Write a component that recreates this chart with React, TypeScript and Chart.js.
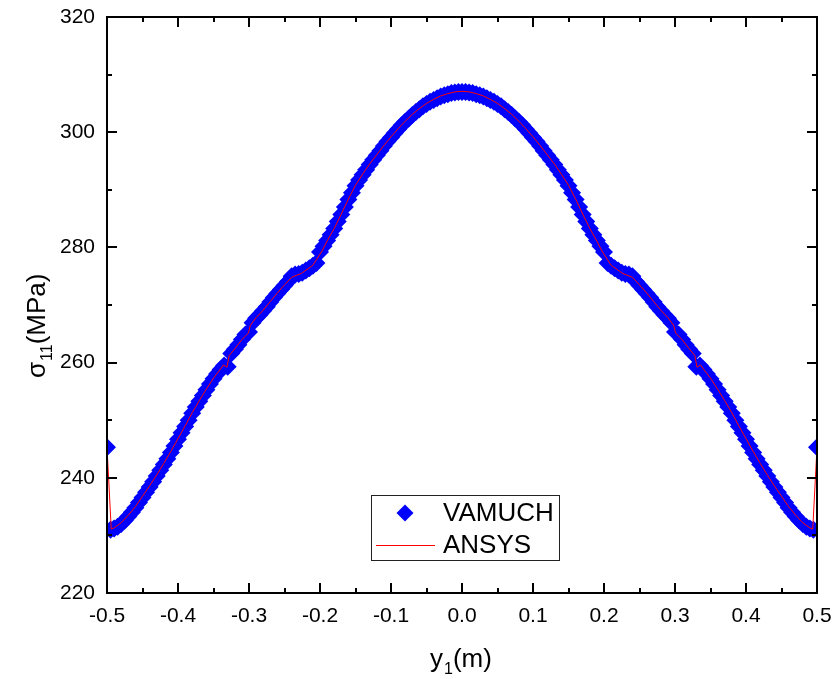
import React, { useEffect, useRef } from "react";
import { Chart, registerables } from "chart.js";

Chart.register(...registerables);

const FONT = "'Liberation Sans', Arial, sans-serif";

// VAMUCH (diamonds)
const vamuchX = [
  -0.5, -0.495, -0.49, -0.485, -0.48, -0.475, -0.47, -0.465, -0.46, -0.455,
  -0.45, -0.445, -0.44, -0.435, -0.43, -0.425, -0.42, -0.415, -0.41, -0.405,
  -0.4, -0.395, -0.39, -0.385, -0.38, -0.375, -0.37, -0.365, -0.36, -0.355,
  -0.35, -0.345, -0.34, -0.335, -0.33, -0.325, -0.32, -0.315, -0.31, -0.305,
  -0.3, -0.295, -0.29, -0.285, -0.28, -0.275, -0.27, -0.265, -0.26, -0.255,
  -0.25, -0.245, -0.24, -0.235, -0.23, -0.225, -0.22, -0.215, -0.21, -0.205,
  -0.2, -0.195, -0.19, -0.185, -0.18, -0.175, -0.17, -0.165, -0.16, -0.155,
  -0.15, -0.145, -0.14, -0.135, -0.13, -0.125, -0.12, -0.115, -0.11, -0.105,
  -0.1, -0.095, -0.09, -0.085, -0.08, -0.075, -0.07, -0.065, -0.06, -0.055,
  -0.05, -0.045, -0.04, -0.035, -0.03, -0.025, -0.02, -0.015, -0.01, -0.005,
  0.0,
  0.005, 0.01, 0.015, 0.02, 0.025, 0.03, 0.035, 0.04, 0.045, 0.05,
  0.055, 0.06, 0.065, 0.07, 0.075, 0.08, 0.085, 0.09, 0.095, 0.1,
  0.105, 0.11, 0.115, 0.12, 0.125, 0.13, 0.135, 0.14, 0.145, 0.15,
  0.155, 0.16, 0.165, 0.17, 0.175, 0.18, 0.185, 0.19, 0.195, 0.2,
  0.205, 0.21, 0.215, 0.22, 0.225, 0.23, 0.235, 0.24, 0.245, 0.25,
  0.255, 0.26, 0.265, 0.27, 0.275, 0.28, 0.285, 0.29, 0.295, 0.3,
  0.305, 0.31, 0.315, 0.32, 0.325, 0.33, 0.335, 0.34, 0.345, 0.35,
  0.355, 0.36, 0.365, 0.37, 0.375, 0.38, 0.385, 0.39, 0.395, 0.4,
  0.405, 0.41, 0.415, 0.42, 0.425, 0.43, 0.435, 0.44, 0.445, 0.45,
  0.455, 0.46, 0.465, 0.47, 0.475, 0.48, 0.485, 0.49, 0.495, 0.5,
];
const vamuchY = [
  245.3, 231.0, 231.2, 231.5, 232.0, 232.6, 233.3, 234.0, 234.8, 235.7,
  236.6, 237.5, 238.4, 239.3, 240.3, 241.3, 242.3, 243.3, 244.4, 245.5,
  246.7, 247.8, 248.9, 250.0, 251.2, 252.3, 253.3, 254.3, 255.3, 256.3,
  257.2, 258.0, 258.8, 259.5, 259.3, 261.6, 262.3, 263.1, 264.0, 264.9,
  265.3, 266.9, 267.7, 268.3, 269.0, 269.7, 270.5, 271.3, 272.0, 272.7,
  273.4, 274.1, 275.0, 275.3, 275.4, 275.6, 276.0, 276.4, 276.8, 277.3,
  279.2, 280.2, 281.2, 282.2, 283.3, 284.5, 285.7, 287.0, 288.3, 289.5,
  290.7, 291.7, 292.6, 293.5, 294.4, 295.2, 296.0, 296.8, 297.6, 298.4,
  299.1, 299.8, 300.5, 301.2, 301.8, 302.4, 303.0, 303.5, 304.0, 304.5,
  304.9, 305.3, 305.6, 305.9, 306.2, 306.4, 306.6, 306.8, 306.9, 307.0,
  307.0,
  307.0, 306.9, 306.8, 306.6, 306.4, 306.2, 305.9, 305.6, 305.3, 304.9,
  304.5, 304.0, 303.5, 303.0, 302.4, 301.8, 301.2, 300.5, 299.8, 299.1,
  298.4, 297.6, 296.8, 296.0, 295.2, 294.4, 293.5, 292.6, 291.7, 290.7,
  289.5, 288.3, 287.0, 285.7, 284.5, 283.3, 282.2, 281.2, 280.2, 279.2,
  277.3, 276.8, 276.4, 276.0, 275.6, 275.4, 275.3, 275.0, 274.1, 273.4,
  272.7, 272.0, 271.3, 270.5, 269.7, 269.0, 268.3, 267.7, 266.9, 265.3,
  264.9, 264.0, 263.1, 262.3, 261.6, 259.3, 259.5, 258.8, 258.0, 257.2,
  256.3, 255.3, 254.3, 253.3, 252.3, 251.2, 250.0, 248.9, 247.8, 246.7,
  245.5, 244.4, 243.3, 242.3, 241.3, 240.3, 239.3, 238.4, 237.5, 236.6,
  235.7, 234.8, 234.0, 233.3, 232.6, 232.0, 231.5, 231.2, 231.0, 245.3,
];

// ANSYS (line)
const ansysX = [
  -0.5, -0.494, -0.49, -0.48, -0.47, -0.46, -0.45, -0.44, -0.43, -0.42, -0.41,
  -0.4, -0.39, -0.38, -0.37, -0.36, -0.35, -0.34, -0.336, -0.331, -0.328,
  -0.32, -0.31, -0.301, -0.298, -0.29, -0.28, -0.27, -0.26, -0.25, -0.24,
  -0.226, -0.21, -0.197, -0.19, -0.18, -0.17, -0.16, -0.15, -0.14, -0.13,
  -0.12, -0.11, -0.1, -0.09, -0.08, -0.07, -0.06, -0.05, -0.04, -0.03,
  -0.02, -0.01, 0.0,
  0.01, 0.02, 0.03, 0.04, 0.05, 0.06, 0.07, 0.08, 0.09, 0.1,
  0.11, 0.12, 0.13, 0.14, 0.15, 0.16, 0.17, 0.18, 0.19, 0.197,
  0.21, 0.226, 0.24, 0.25, 0.26, 0.27, 0.28, 0.29, 0.298, 0.301,
  0.31, 0.32, 0.328, 0.331, 0.336, 0.34, 0.35, 0.36, 0.37, 0.38,
  0.39, 0.4, 0.41, 0.42, 0.43, 0.44, 0.45, 0.46, 0.47, 0.48, 0.49, 0.494, 0.5,
];
const ansysY = [
  245.3, 231.1, 231.3, 232.2, 233.5, 235.0, 236.8, 238.6, 240.5, 242.5, 244.6,
  246.8, 249.0, 251.3, 253.4, 255.4, 257.3, 258.9, 259.6, 259.2, 261.2,
  262.4, 264.0, 265.1, 266.5, 267.8, 269.1, 270.6, 272.1, 273.5, 274.8,
  275.5, 276.9, 279.4, 281.1, 283.3, 285.8, 288.4, 290.8, 292.7, 294.5,
  296.1, 297.7, 299.2, 300.6, 301.9, 303.1, 304.1, 305.0, 305.7, 306.3,
  306.7, 307.0, 307.1,
  307.0, 306.7, 306.3, 305.7, 305.0, 304.1, 303.1, 301.9, 300.6, 299.2,
  297.7, 296.1, 294.5, 292.7, 290.8, 288.4, 285.8, 283.3, 281.1, 279.4,
  276.9, 275.5, 274.8, 273.5, 272.1, 270.6, 269.1, 267.8, 266.5, 265.1,
  264.0, 262.4, 261.2, 259.2, 259.6, 258.9, 257.3, 255.4, 253.4, 251.3,
  249.0, 246.8, 244.6, 242.5, 240.5, 238.6, 236.8, 235.0, 233.5, 232.2, 231.3, 231.1, 245.3,
];

const seriesNames = ["VAMUCH", "ANSYS"];
const xTitleParts = [
  { t: "y", sub: false },
  { t: "1", sub: true },
  { t: "(m)", sub: false },
];
const yTitleParts = [
  { t: "σ", sub: false },
  { t: "11", sub: true },
  { t: "(MPa)", sub: false },
];

const BLUE = "#0000ff";
const RED = "#ff0000";

function drawParts(ctx: CanvasRenderingContext2D, x: number, y: number, parts: { t: string; sub: boolean }[]) {
  let cx = x;
  ctx.textAlign = "left";
  ctx.textBaseline = "alphabetic";
  ctx.fillStyle = "#000";
  for (const p of parts) {
    if (p.sub) {
      ctx.font = `16px ${FONT}`;
      ctx.fillText(p.t, cx + 1, y + 7);
      cx += ctx.measureText(p.t).width + 1;
    } else {
      ctx.font = `26px ${FONT}`;
      ctx.fillText(p.t, cx, y);
      cx += ctx.measureText(p.t).width;
    }
  }
}

const framePlugin = {
  id: "frame",
  afterDraw(chart: any) {
    const ctx: CanvasRenderingContext2D = chart.ctx;
    const { left, right, top, bottom } = chart.chartArea;
    const xs = chart.scales.x;
    const ys = chart.scales.y;
    ctx.save();
    ctx.strokeStyle = "#000";
    ctx.lineWidth = 2;
    ctx.strokeRect(left, top, right - left, bottom - top);
    const xt = xs.ticks.map((t: any) => t.value);
    const yt = ys.ticks.map((t: any) => t.value);
    ctx.beginPath();
    const major = 10, minor = 5;
    xt.forEach((v: number, i: number) => {
      const px = Math.round(xs.getPixelForValue(v));
      ctx.moveTo(px, bottom); ctx.lineTo(px, bottom - major);
      ctx.moveTo(px, top); ctx.lineTo(px, top + major);
      if (i < xt.length - 1) {
        const m = Math.round(xs.getPixelForValue((v + xt[i + 1]) / 2));
        ctx.moveTo(m, bottom); ctx.lineTo(m, bottom - minor);
        ctx.moveTo(m, top); ctx.lineTo(m, top + minor);
      }
    });
    yt.forEach((v: number, i: number) => {
      const py = Math.round(ys.getPixelForValue(v));
      ctx.moveTo(left, py); ctx.lineTo(left + major, py);
      ctx.moveTo(right, py); ctx.lineTo(right - major, py);
      if (i < yt.length - 1) {
        const m = Math.round(ys.getPixelForValue((v + yt[i + 1]) / 2));
        ctx.moveTo(left, m); ctx.lineTo(left + minor, m);
        ctx.moveTo(right, m); ctx.lineTo(right - minor, m);
      }
    });
    ctx.stroke();

    // axis titles
    drawParts(ctx, 430, 667, xTitleParts);
    ctx.save();
    ctx.translate(45, 378);
    ctx.rotate(-Math.PI / 2);
    drawParts(ctx, 0, 0, yTitleParts);
    ctx.restore();

    // legend
    ctx.lineWidth = 1;
    ctx.strokeStyle = "#222";
    ctx.strokeRect(371.5, 495.5, 188, 65);
    ctx.fillStyle = BLUE;
    ctx.beginPath();
    const dx = 405, dy = 513, r = 8.5;
    ctx.moveTo(dx - r, dy); ctx.lineTo(dx, dy - r); ctx.lineTo(dx + r, dy); ctx.lineTo(dx, dy + r);
    ctx.closePath();
    ctx.fill();
    ctx.strokeStyle = RED;
    ctx.lineWidth = 1.2;
    ctx.beginPath();
    ctx.moveTo(376, 545.5); ctx.lineTo(435, 545.5);
    ctx.stroke();
    ctx.fillStyle = "#000";
    ctx.font = `26px ${FONT}`;
    ctx.textAlign = "left";
    ctx.textBaseline = "alphabetic";
    ctx.fillText(seriesNames[0], 443, 521);
    ctx.fillText(seriesNames[1], 443, 553);
    ctx.restore();
  },
};

function zeroPad(s: any) {
  s.paddingLeft = 0;
  s.paddingRight = 0;
  s.paddingTop = 0;
  s.paddingBottom = 0;
}

export default function App() {
  const ref = useRef<HTMLCanvasElement | null>(null);
  useEffect(() => {
    if (!ref.current) return;
    const chart = new Chart(ref.current, {
      type: "scatter",
      data: {
        datasets: [
          {
            label: seriesNames[1],
            data: ansysX.map((x, i) => ({ x, y: ansysY[i] })),
            showLine: true,
            borderColor: RED,
            borderWidth: 1,
            pointRadius: 0,
            order: 0,
            clip: 0,
          } as any,
          {
            label: seriesNames[0],
            data: vamuchX.map((x, i) => ({ x, y: vamuchY[i] })),
            showLine: false,
            pointStyle: "rectRot",
            pointRadius: 9,
            backgroundColor: BLUE,
            borderColor: BLUE,
            borderWidth: 0,
            order: 1,
            clip: 0,
          } as any,
        ],
      },
      options: {
        responsive: false,
        animation: false,
        events: [],
        layout: { padding: { left: 0, top: 17, right: 18, bottom: 0 } },
        plugins: { legend: { display: false }, tooltip: { enabled: false } },
        scales: {
          x: {
            type: "linear",
            min: -0.5,
            max: 0.5,
            grid: { display: false, drawTicks: false },
            border: { display: false },
            ticks: {
              stepSize: 0.1,
              padding: 11,
              color: "#000",
              font: { family: FONT, size: 21 },
              callback: (v: any) => (Math.abs(Number(v)) < 1e-9 ? "0.0" : Number(v).toFixed(1)),
            },
            afterFit: (s: any) => { s.height = 86; zeroPad(s); },
          },
          y: {
            type: "linear",
            min: 220,
            max: 320,
            grid: { display: false, drawTicks: false },
            border: { display: false },
            ticks: {
              stepSize: 20,
              padding: 12,
              color: "#000",
              font: { family: FONT, size: 21 },
            },
            afterFit: (s: any) => { s.width = 107; zeroPad(s); },
          },
        },
      },
      plugins: [framePlugin],
    });
    return () => chart.destroy();
  }, []);
  return (
    <div style={{ position: "absolute", left: 0, top: 0, width: 835, height: 679, background: "#fff" }}>
      <canvas ref={ref} width={835} height={679} />
    </div>
  );
}
